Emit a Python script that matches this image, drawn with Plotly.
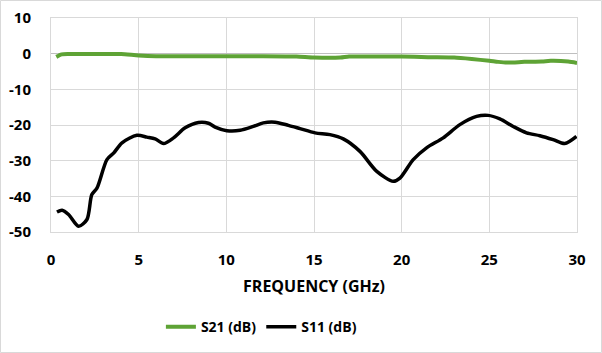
import plotly.graph_objects as go

# S11 (dB) data
s11_freq = [0.34, 0.63, 1.0, 1.57, 2.05, 2.33, 2.62, 3.19, 3.57, 4.05, 4.9, 5.47, 5.94, 6.42, 6.99,
            7.65, 8.41, 8.98, 9.36, 10.03, 10.79, 11.54, 12.11, 12.78, 13.54, 14.2, 15.06, 15.91,
            16.67, 17.62, 18.58, 19.52, 19.9, 20.66, 21.42, 22.37, 23.32, 24.27, 24.93, 25.6,
            26.36, 27.12, 27.88, 28.64, 29.3, 29.97]
s11_db = [-44.4, -43.9, -45.1, -48.4, -46.5, -39.5, -37.7, -29.7, -27.9, -25.0, -22.9, -23.4, -23.9,
          -25.2, -23.6, -20.8, -19.3, -19.5, -20.6, -21.6, -21.5, -20.4, -19.4, -19.2, -20.1, -21.0,
          -22.2, -22.7, -23.9, -27.4, -33.0, -35.8, -34.9, -29.7, -26.4, -23.6, -19.9, -17.6,
          -17.3, -18.3, -20.4, -22.2, -23.0, -24.1, -25.2, -23.2]

# S21 (dB) data
s21_freq = [0.3, 0.6, 1.0, 2.0, 3.0, 4.0, 5.0, 6.0, 8.0, 10.0, 12.0, 14.0, 15.0, 16.5, 17.0, 18.5,
            20.0, 21.5, 23.0, 24.0, 25.0, 25.5, 26.0, 27.0, 28.0, 28.5, 29.5, 30.0]
s21_db = [-0.9, -0.2, -0.1, -0.1, -0.1, -0.1, -0.5, -0.7, -0.7, -0.7, -0.7, -0.8, -1.1, -1.1, -0.8,
          -0.8, -0.8, -1.0, -1.1, -1.5, -2.0, -2.3, -2.5, -2.3, -2.2, -2.0, -2.2, -2.6]

x_ticks = [0, 5, 10, 15, 20, 25, 30]
y_ticks = [10, 0, -10, -20, -30, -40, -50]
y_tick_text = ["10", "0", "-10", "-20", "-30", "-40", "-50"]

FONT = "Open Sans"

fig = go.Figure()
fig.add_trace(go.Scatter(x=s21_freq, y=s21_db, mode="lines", name="S21 (dB)",
                         line=dict(color="#5ea335", width=4, shape="spline", smoothing=0.6)))
fig.add_trace(go.Scatter(x=s11_freq, y=s11_db, mode="lines", name="S11 (dB)",
                         line=dict(color="#000000", width=3.5, shape="spline", smoothing=0.8)))

fig.update_layout(
    width=602, height=353,
    margin=dict(l=51, r=25, t=18, b=121, autoexpand=False),
    paper_bgcolor="white", plot_bgcolor="white",
    font=dict(family=FONT, size=14, color="#000000"),
    showlegend=True,
    legend=dict(orientation="h", x=0.40, xanchor="center", y=-0.37, yanchor="top",
                font=dict(family=FONT, size=14, color="#000000", weight="bold"),
                itemwidth=30, tracegroupgap=0),
    xaxis=dict(range=[0, 30], tickvals=x_ticks, showgrid=True, gridcolor="#d9d9d9", gridwidth=1,
               showline=True, mirror=True, linecolor="#d9d9d9", linewidth=1, zeroline=False,
               ticks="", ticklabelstandoff=14, automargin=False,
               tickfont=dict(family=FONT, size=15, weight="bold"),
               title=dict(text="FREQUENCY (GHz)", standoff=12,
                          font=dict(family=FONT, size=16, weight="bold"))),
    yaxis=dict(range=[-50, 10], tickvals=y_ticks, ticktext=y_tick_text, showgrid=True,
               gridcolor="#d9d9d9", gridwidth=1, showline=True, mirror=True, linecolor="#d9d9d9",
               linewidth=1, zeroline=True, zerolinecolor="#bfbfbf", zerolinewidth=1,
               ticks="", ticklabelstandoff=16, automargin=False,
               tickfont=dict(family=FONT, size=15, weight="bold")),
)

# outer chart border
pw = 602 - 51 - 25
ph = 353 - 18 - 121
fig.add_shape(type="rect", xref="paper", yref="paper",
              x0=-50.5 / pw, x1=1 + 24.5 / pw, y0=-120.5 / ph, y1=1 + 17.5 / ph,
              line=dict(color="#d9d9d9", width=1), fillcolor="rgba(0,0,0,0)", layer="below")

fig.write_html("out.html", config={"displayModeBar": False},
               post_script="document.body.style.margin='0';document.body.style.padding='0';")
